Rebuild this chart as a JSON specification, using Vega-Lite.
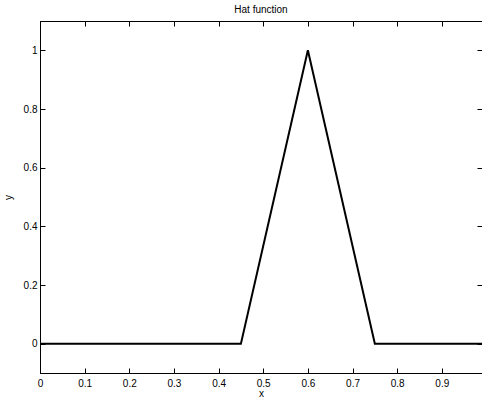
{
  "$schema": "https://vega.github.io/schema/vega-lite/v6.json",
  "autosize": "none",
  "width": 442,
  "height": 352,
  "padding": {"left": 40, "top": 21, "right": 0, "bottom": 31},
  "background": "white",
  "title": {"text": "Hat function", "fontSize": 10, "fontWeight": "normal", "font": "Liberation Sans", "color": "#000", "offset": 6},
  "config": {
    "view": {"stroke": "#000", "strokeWidth": 1},
    "axis": {
      "domainColor": "#000",
      "tickColor": "#000",
      "labelColor": "#000",
      "titleColor": "#000",
      "labelFont": "Liberation Sans",
      "titleFont": "Liberation Sans",
      "labelFontSize": 10,
      "titleFontSize": 10,
      "titleFontWeight": "normal",
      "grid": false,
      "tickSize": -5,
      "format": "~g"
    }
  },
  "data": {"values": [
    {"x": 0, "y": 0},
    {"x": 0.45, "y": 0},
    {"x": 0.6, "y": 1},
    {"x": 0.75, "y": 0},
    {"x": 0.99, "y": 0}
  ]},
  "layer": [
    {
      "mark": {"type": "line", "color": "#000", "strokeWidth": 2, "clip": true},
      "encoding": {
        "x": {"field": "x", "type": "quantitative", "scale": {"domain": [0, 0.99], "nice": false, "zero": false},
              "axis": {"title": "x", "values": [0, 0.1, 0.2, 0.3, 0.4, 0.5, 0.6, 0.7, 0.8, 0.9], "labelPadding": 10, "titlePadding": 0, "labelFlush": false, "labelOverlap": false}},
        "y": {"field": "y", "type": "quantitative", "scale": {"domain": [-0.1, 1.1], "nice": false, "zero": false},
              "axis": {"title": "y", "values": [0, 0.2, 0.4, 0.6, 0.8, 1], "labelPadding": 8, "titlePadding": 10, "labelFlush": false, "labelOverlap": false}}
      }
    },
    {
      "mark": {"type": "line", "opacity": 0},
      "encoding": {
        "x": {"field": "x", "type": "quantitative",
              "axis": {"orient": "top", "title": null, "labels": false, "values": [0, 0.1, 0.2, 0.3, 0.4, 0.5, 0.6, 0.7, 0.8, 0.9]}},
        "y": {"field": "y", "type": "quantitative",
              "axis": {"orient": "right", "title": null, "labels": false, "values": [0, 0.2, 0.4, 0.6, 0.8, 1]}}
      }
    }
  ],
  "resolve": {"axis": {"x": "independent", "y": "independent"}}
}
